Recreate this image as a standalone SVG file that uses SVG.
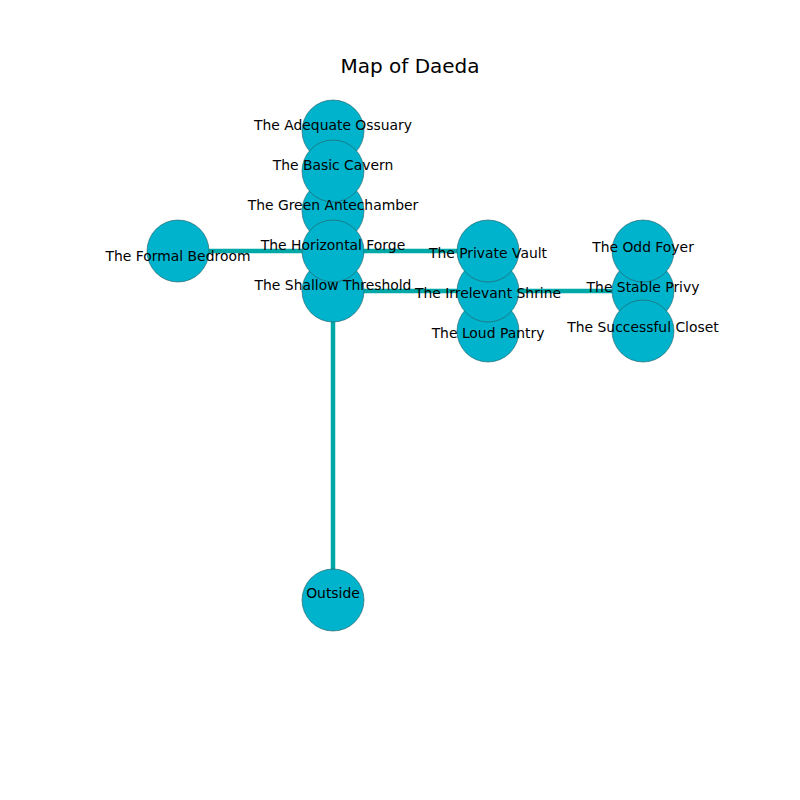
<svg xmlns="http://www.w3.org/2000/svg" width="800" height="800" viewBox="0 0 800 800">
<style>
.n{fill:#00b3cc;stroke:#2a5a60;stroke-width:0.6}
.e{stroke:#00a8a8;stroke-width:4.5;fill:none}
.t{font-family:"DejaVu Sans",sans-serif;font-size:13.9px;fill:#000;text-anchor:middle}
</style>
<rect width="800" height="800" fill="#fff"/>
<text x="410" y="73" font-family="DejaVu Sans,sans-serif" font-size="20" text-anchor="middle">Map of Daeda</text>
<g id="connectors">
<line class="e" x1="178" y1="251" x2="333" y2="251"/>
<line class="e" x1="333" y1="251" x2="488" y2="251"/>
<line class="e" x1="333" y1="291" x2="488" y2="291"/>
<line class="e" x1="488" y1="291" x2="643" y2="291"/>
<line class="e" x1="333" y1="291" x2="333" y2="600"/>
</g>
<g id="nodes">
<g id="ossuary"><circle class="n" cx="333" cy="131" r="31"/></g>
<g id="antechamber"><circle class="n" cx="333" cy="211" r="31"/></g>
<g id="threshold"><circle class="n" cx="333" cy="291" r="31"/></g>
<g id="cavern"><circle class="n" cx="333" cy="171" r="31"/></g>
<g id="forge"><circle class="n" cx="333" cy="251" r="31"/></g>
<g id="bedroom"><circle class="n" cx="178" cy="251" r="31"/></g>
<g id="pantry"><circle class="n" cx="488" cy="331" r="31"/></g>
<g id="shrine"><circle class="n" cx="488" cy="291" r="31"/></g>
<g id="vault"><circle class="n" cx="488" cy="251" r="31"/></g>
<g id="privy"><circle class="n" cx="643" cy="291" r="31"/></g>
<g id="foyer"><circle class="n" cx="643" cy="251" r="31"/></g>
<g id="closet"><circle class="n" cx="643" cy="331" r="31"/></g>
<g id="outside"><circle class="n" cx="333" cy="600" r="31"/></g>
</g>
<g id="labels">
<text class="t" x="333" y="130">The Adequate Ossuary</text>
<text class="t" x="333" y="170">The Basic Cavern</text>
<text class="t" x="333" y="210">The Green Antechamber</text>
<text class="t" x="333" y="250">The Horizontal Forge</text>
<text class="t" x="333" y="290">The Shallow Threshold</text>
<text class="t" x="178" y="261">The Formal Bedroom</text>
<text class="t" x="488" y="258">The Private Vault</text>
<text class="t" x="488" y="298">The Irrelevant Shrine</text>
<text class="t" x="488" y="338">The Loud Pantry</text>
<text class="t" x="643" y="252">The Odd Foyer</text>
<text class="t" x="643" y="292">The Stable Privy</text>
<text class="t" x="643" y="332">The Successful Closet</text>
<text class="t" x="333" y="598">Outside</text>
</g>
</svg>
